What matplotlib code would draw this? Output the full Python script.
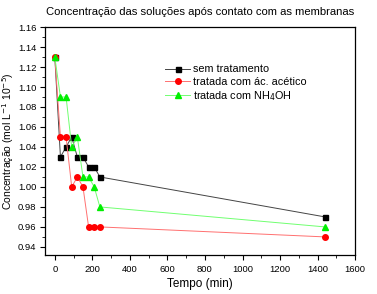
import numpy as np
import matplotlib.pyplot as plt
from matplotlib.ticker import MultipleLocator

plt.rcParams['font.family'] = ['Liberation Sans', 'DejaVu Sans']

tempo = [0, 30, 60, 90, 120, 150, 180, 210, 240, 1440]
sem_trat = [1.13, 1.03, 1.04, 1.05, 1.03, 1.03, 1.02, 1.02, 1.01, 0.97]
acetico = [1.13, 1.05, 1.05, 1.00, 1.01, 1.00, 0.96, 0.96, 0.96, 0.95]
nh4oh = [1.13, 1.09, 1.09, 1.04, 1.05, 1.01, 1.01, 1.00, 0.98, 0.96]

fig = plt.figure(figsize=(3.77, 2.94), dpi=100)
ax = fig.add_axes([0.119, 0.133, 0.823, 0.775])

ax.plot(tempo, sem_trat, color='#444444', lw=0.7, marker='s', ms=3.6,
        mfc='black', mec='black', label='sem tratamento')
ax.plot(tempo, acetico, color='#ff7070', lw=0.7, marker='o', ms=4,
        mfc='red', mec='red', label='tratada com ác. acético')
ax.plot(tempo, nh4oh, color='#70ff70', lw=0.7, marker='^', ms=4.3,
        mfc='#00ee00', mec='#00ee00', label='tratada com NH$_4$OH')

ax.set_xlim(-53, 1600)
ax.set_ylim(0.932, 1.16)
ax.xaxis.set_major_locator(MultipleLocator(200))
ax.xaxis.set_minor_locator(MultipleLocator(100))
ax.yaxis.set_major_locator(MultipleLocator(0.02))
ax.yaxis.set_minor_locator(MultipleLocator(0.01))
ax.yaxis.set_major_formatter(plt.FormatStrFormatter('%.2f'))
ax.tick_params(which='both', direction='out', labelsize=6.8, top=False, right=False)
ax.tick_params(which='major', length=3.5)
ax.tick_params(axis='y', pad=2.5)
ax.tick_params(which='minor', length=2)
for s in ax.spines.values():
    s.set_linewidth(0.9)

ax.set_xlabel('Tempo (min)', fontsize=8.5, labelpad=3)
ax.set_ylabel('Concentração (mol L$^{-1}$ 10$^{-5}$)', fontsize=7.5)
ax.yaxis.set_label_coords(-0.092, 0.5)
ax.set_title('Concentração das soluções após contato com as membranas', fontsize=8.1, pad=9)

ax.legend(loc='upper left', bbox_to_anchor=(0.37, 0.86), frameon=False, fontsize=7.8,
          handlelength=2.3, labelspacing=0.22, handletextpad=0.25, borderpad=0)

fig.savefig('out.png', dpi=100)
